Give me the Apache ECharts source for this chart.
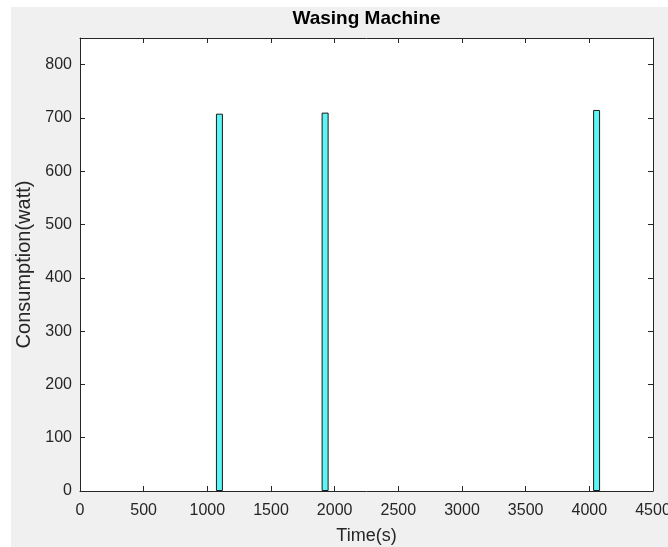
<!DOCTYPE html>
<html>
<head>
<meta charset="utf-8">
<script src="https://cdn.jsdelivr.net/npm/echarts@6/dist/echarts.min.js"></script>
<style>
html,body{margin:0;padding:0;background:#fff;width:668px;height:547px;overflow:hidden;}
#bg{position:absolute;left:11px;top:7px;right:0;bottom:0;background:#f0f0f0;}
#chart{position:absolute;left:0;top:0;width:668px;height:547px;}
</style>
</head>
<body>
<div id="bg"></div>
<div id="chart"></div>
<script>
// Data
const times = [1095, 1925, 4057];          // time (s) of each bar centre
const consumption = [708, 710, 715];      // consumption (watt)
const xTicks = [0, 500, 1000, 1500, 2000, 2500, 3000, 3500, 4000, 4500];
const yTicks = [0, 100, 200, 300, 400, 500, 600, 700, 800];
const titleText = 'Wasing Machine';
const xName = 'Time(s)';
const yName = 'Consumption(watt)';

const FONT = "'Liberation Sans', Arial, Helvetica, sans-serif";
const AX = '#262626';
const chart = echarts.init(document.getElementById('chart'), null, {renderer: 'canvas'});

const barData = times.map((t, i) => [t, consumption[i]]);

const tickCommon = {show: true, inside: true, length: 5, lineStyle: {color: AX, width: 1}};
const lineCommon = {show: true, onZero: false, lineStyle: {color: AX, width: 1}};

chart.setOption({
  animation: false,
  backgroundColor: 'transparent',
  grid: {left: 80, top: 38, right: 15, bottom: 56, show: true, backgroundColor: '#fff', borderWidth: 0,
    containLabel: false, outerBoundsMode: 'none'},
  xAxis: [{
    type: 'value', position: 'bottom', min: xTicks[0], max: xTicks[xTicks.length - 1], interval: 500,
    axisLine: lineCommon, axisTick: tickCommon, splitLine: {show: false},
    axisLabel: {color: AX, fontSize: 16, fontFamily: FONT, margin: 12,
      formatter: v => (xTicks.indexOf(v) >= 0 ? String(v) : '')},
    name: xName, nameLocation: 'middle', nameGap: 36,
    nameTextStyle: {color: AX, fontSize: 18, fontFamily: FONT}
  }, {
    type: 'value', position: 'top', min: xTicks[0], max: xTicks[xTicks.length - 1], interval: 500,
    axisLine: lineCommon, axisTick: tickCommon, splitLine: {show: false},
    axisLabel: {show: false},
    name: titleText, nameLocation: 'middle', nameGap: 10,
    nameTextStyle: {color: '#000', fontSize: 19, fontWeight: 'bold', fontFamily: FONT}
  }],
  yAxis: [{
    type: 'value', position: 'left', min: yTicks[0], max: 850, interval: 100,
    axisLine: lineCommon, axisTick: tickCommon, splitLine: {show: false},
    axisLabel: {color: AX, fontSize: 16, fontFamily: FONT, margin: 8, showMaxLabel: false,
      formatter: v => (yTicks.indexOf(v) >= 0 ? String(v) : '')},
    name: yName, nameLocation: 'middle', nameGap: 44,
    nameTextStyle: {color: AX, fontSize: 20, fontFamily: FONT}
  }, {
    type: 'value', position: 'right', min: yTicks[0], max: 850, interval: 100,
    axisLine: lineCommon, axisTick: tickCommon, splitLine: {show: false},
    axisLabel: {show: false}
  }],
  series: [{
    type: 'bar',
    xAxisIndex: 0, yAxisIndex: 0,
    data: barData,
    barWidth: 7,
    itemStyle: {color: '#5ef4f4', borderColor: '#1a1a1a', borderWidth: 1}
  }]
});
</script>
</body>
</html>
